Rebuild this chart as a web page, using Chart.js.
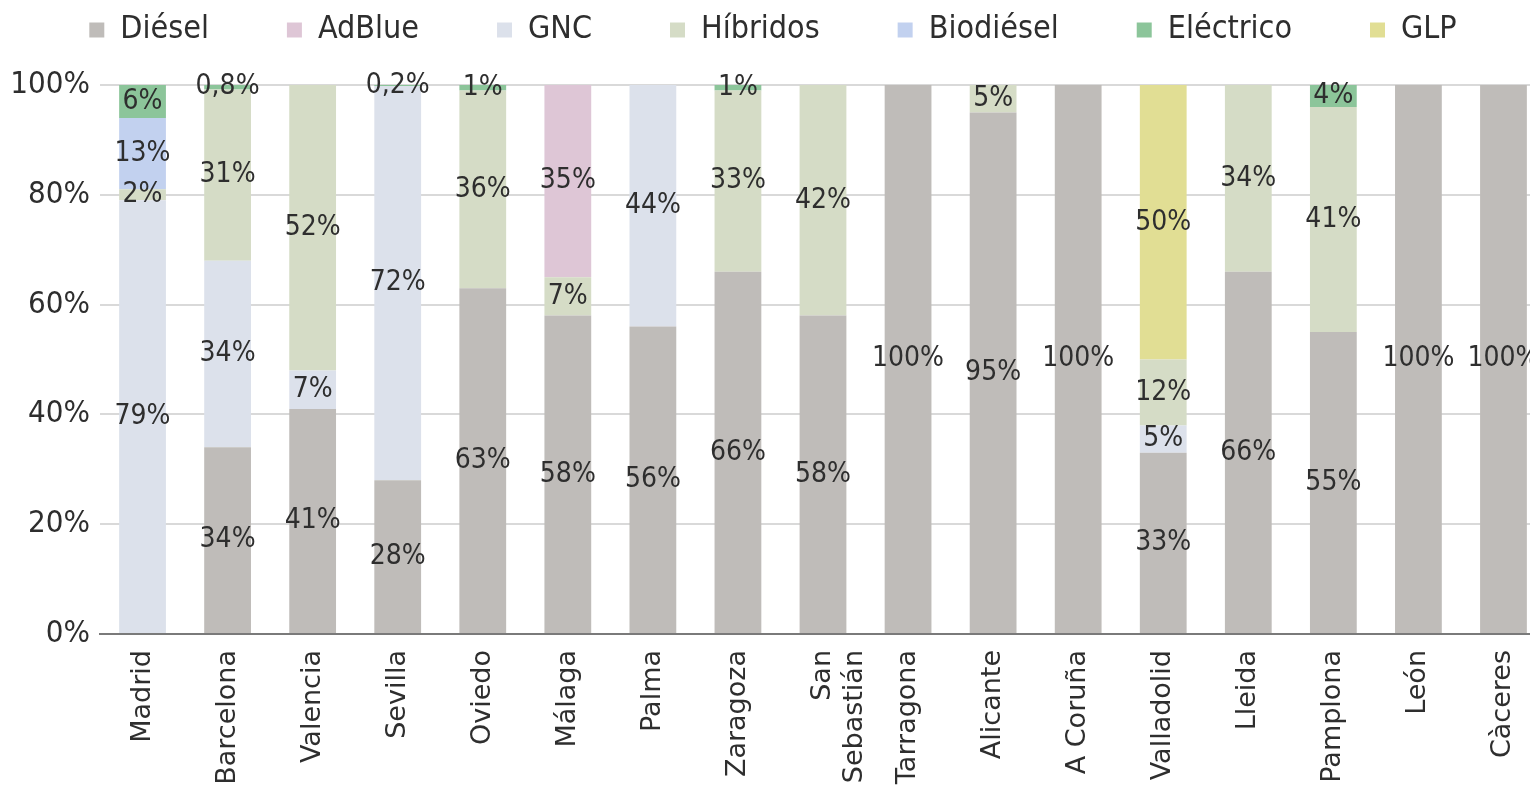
<!DOCTYPE html>
<html>
<head>
<meta charset="utf-8">
<script src="https://cdn.jsdelivr.net/npm/chart.js@4/dist/chart.umd.min.js"></script>
<style>
  html, body { margin: 0; padding: 0; background: #fff; overflow: hidden; }
  #wrap { width: 1546px; height: 793px; }
</style>
</head>
<body>
<div id="wrap"><canvas id="chart"></canvas></div>
<script>
const cities = ['Madrid', 'Barcelona', 'Valencia', 'Sevilla', 'Oviedo', 'Málaga', 'Palma', 'Zaragoza',
  ['San', 'Sebastián'], 'Tarragona', 'Alicante', 'A Coruña', 'Valladolid', 'Lleida', 'Pamplona', 'León', 'Càceres'];

const diesel    = [0, 34, 41, 28, 63, 58, 56, 66, 58, 100, 95, 100, 33, 66, 55, 100, 100];
const adblue    = [0, 0, 0, 0, 0, 35, 0, 0, 0, 0, 0, 0, 0, 0, 0, 0, 0];
const gnc       = [79, 34, 7, 71.8, 0, 0, 44, 0, 0, 0, 0, 0, 5, 0, 0, 0, 0];
const hibridos  = [2, 31.2, 52, 0, 36, 7, 0, 33, 42, 0, 5, 0, 12, 34, 41, 0, 0];
const biodiesel = [13, 0, 0, 0, 0, 0, 0, 0, 0, 0, 0, 0, 0, 0, 0, 0, 0];
const electrico = [6, 0.8, 0, 0.2, 1, 0, 0, 1, 0, 0, 0, 0, 0, 0, 4, 0, 0];
const glp       = [0, 0, 0, 0, 0, 0, 0, 0, 0, 0, 0, 0, 50, 0, 0, 0, 0];

const yTicks = [0, 20, 40, 60, 80, 100];

const condensed = "'Liberation Sans Narrow', 'DejaVu Sans Condensed', 'Roboto Condensed', sans-serif";
const textColor = '#2e2e2e';

function fmt(v) {
  if (v < 1) return v.toFixed(1).replace('.', ',') + '%';
  return Math.round(v) + '%';
}

// value labels in the middle of each segment
const segLabels = {
  id: 'segLabels',
  afterDatasetsDraw(chart) {
    const ctx = chart.ctx;
    ctx.save();
    ctx.font = '28px ' + condensed;
    ctx.fillStyle = textColor;
    ctx.textAlign = 'center';
    ctx.textBaseline = 'middle';
    chart.data.datasets.forEach((ds, i) => {
      const meta = chart.getDatasetMeta(i);
      meta.data.forEach((bar, j) => {
        const v = ds.data[j];
        if (!v) return;
        const p = bar.getProps(['x', 'y', 'base'], true);
        ctx.fillText(fmt(v), p.x, (p.y + p.base) / 2);
      });
    });
    ctx.restore();
  }
};

new Chart(document.getElementById('chart'), {
  type: 'bar',
  data: {
    labels: cities,
    datasets: [
      { label: 'Diésel', data: diesel, backgroundColor: '#bfbcb9', order: 0 },
      { label: 'AdBlue', data: adblue, backgroundColor: '#dec6d6', order: 5 },
      { label: 'GNC', data: gnc, backgroundColor: '#dce1eb', order: 1 },
      { label: 'Híbridos', data: hibridos, backgroundColor: '#d5dcc6', order: 2 },
      { label: 'Biodiésel', data: biodiesel, backgroundColor: '#c2d1ef', order: 3 },
      { label: 'Eléctrico', data: electrico, backgroundColor: '#8cc59a', order: 4 },
      { label: 'GLP', data: glp, backgroundColor: '#e1de94', order: 6 }
    ]
  },
  options: {
    responsive: true,
    maintainAspectRatio: false,
    animation: false,
    datasets: { bar: { barPercentage: 0.55, categoryPercentage: 1, borderWidth: 0 } },
    // negative top padding pulls the wide-spaced legend row up to the top edge
    layout: { padding: { top: -64, right: 0, bottom: 0, left: 0 } },
    plugins: {
      tooltip: { enabled: false },
      legend: {
        position: 'top',
        labels: {
          boxWidth: 15,
          boxHeight: 15,
          padding: 78,
          color: textColor,
          font: { family: condensed, size: 32 },
          sort: (a, b) => a.datasetIndex - b.datasetIndex
        }
      },
      // empty spacer between legend and plot
      subtitle: {
        display: true,
        text: '',
        weight: 500,
        font: { size: 10 },
        padding: { top: 0, bottom: 17 }
      }
    },
    scales: {
      x: {
        stacked: true,
        grid: { display: false },
        border: { color: '#7a7a7a', width: 2 },
        ticks: {
          color: textColor,
          font: { family: "'DejaVu Sans', sans-serif", size: 27 },
          minRotation: 90,
          maxRotation: 90,
          autoSkip: false,
          padding: 8
        },
        afterFit: (scale) => { scale.height = 159; }
      },
      y: {
        stacked: true,
        min: 0,
        max: 100,
        afterBuildTicks: (scale) => { scale.ticks = yTicks.map(v => ({ value: v })); },
        grid: { color: '#d9d9d9', lineWidth: 2, drawTicks: false },
        border: { display: false },
        ticks: {
          color: textColor,
          padding: 10,
          font: { family: condensed, size: 31 },
          callback: (v) => v + '%'
        },
        afterFit: (scale) => { scale.width = 100; }
      }
    }
  },
  plugins: [segLabels]
});
</script>
</body>
</html>
